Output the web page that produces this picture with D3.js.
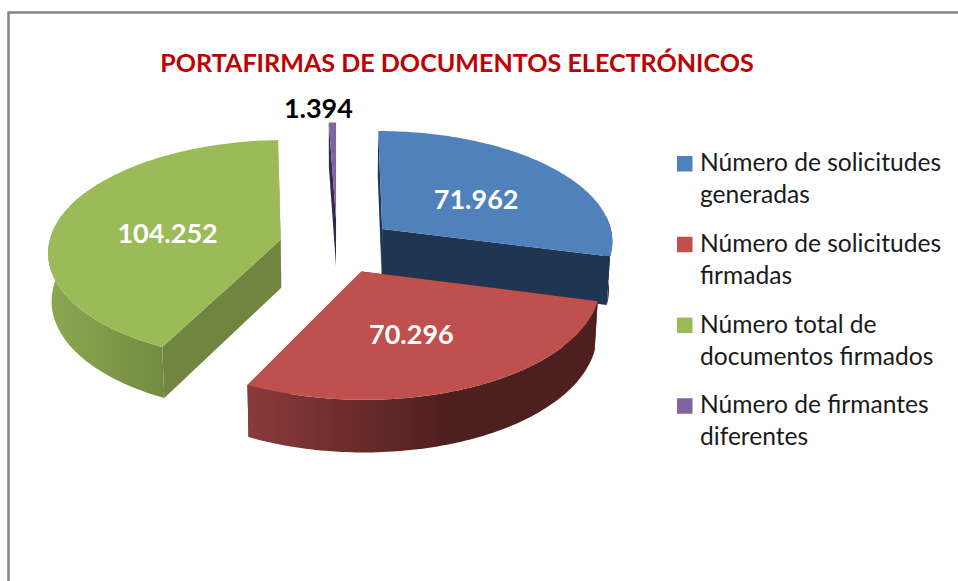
<!DOCTYPE html>
<html><head><meta charset="utf-8">
<script src="https://cdn.jsdelivr.net/npm/d3@7"></script>
<style>html,body{margin:0;padding:0;background:#fff;overflow:hidden}svg{display:block}text{font-family:Lato,"Open Sans",sans-serif}</style>
</head><body><div id="c"></div>
<script>
const titleText = "PORTAFIRMAS DE DOCUMENTOS ELECTRÓNICOS";
const categories = ["Número de solicitudes generadas","Número de solicitudes firmadas","Número total de documentos firmados","Número de firmantes diferentes"];
const legendLines = [["Número de solicitudes","generadas"],["Número de solicitudes","firmadas"],["Número total de","documentos firmados"],["Número de firmantes","diferentes"]];
const values = [71962,70296,104252,1394];
const valueLabels = ["71.962","70.296","104.252","1.394"];
const faceColors = ["#4f81bd","#c0504d","#9bbb59","#8064a2"];
const cutColors = ["#1f3552","#5a2523","#70853f","#35294a"];
const wallStops = [[["#1f3552"],["#1f3552"]],[["#8a3a3a"],["#4d1f1e"]],[["#8ca850"],["#738b41"]],[["#35294a"],["#35294a"]]];

const W=958,H=581,Cx=337,Cy=245.7,R=232,K=110.6,p=0.097,explode=0.25,D=48,shrink=0.988;
const tau=Math.PI*2;
const svg=d3.select("#c").append("svg").attr("width",W).attr("height",H);
svg.append("rect").attr("width",W).attr("height",H).attr("fill","#fff");
const defs=svg.append("defs");
const pie=d3.pie().value(d=>d).sort(null).startAngle(0).endAngle(tau);
const arcs=pie(values);

function project(b,a,r,bottom){
  const X=explode*Math.sin(b)+r*Math.sin(a), V=-explode*Math.cos(b)-r*Math.cos(a);
  const f=1/(1-p*V), s=bottom?shrink:1;
  return [Cx+R*X*f*s, Cy+K*V*f*s+(bottom?D*f:0)];
}
const line=d3.line();
const samples=(a0,a1)=>{const n=Math.max(2,Math.ceil(Math.abs(a1-a0)/0.02));return d3.range(n+1).map(i=>a0+(a1-a0)*i/n);};

const order=[2,3,0,1];
order.forEach(i=>{
  const d=arcs[i], b=(d.startAngle+d.endAngle)/2, g=svg.append("g");
  // cut walls
  [d.startAngle,d.endAngle].forEach(e=>{
    const apexT=project(b,0,0,false),rimT=project(b,e,1,false),rimB=project(b,e,1,true),apexB=project(b,0,0,true);
    g.append("path").attr("d",line([apexT,rimT,rimB,apexB])+"Z").attr("fill",cutColors[i]);
  });
  // outer wall
  const lo=Math.max(d.startAngle,Math.PI*0.46), hi=Math.min(d.endAngle,Math.PI*1.66);
  if(hi>lo){
    const as=samples(lo,hi);
    const top=as.map(a=>project(b,a,1,false)), bot=as.map(a=>project(b,a,1,true)).reverse();
    const xs=top.concat(bot).map(q=>q[0]);
    const id="wall"+i, x0=d3.min(xs), x1=d3.max(xs);
    const grad=defs.append("linearGradient").attr("id",id).attr("gradientUnits","userSpaceOnUse")
      .attr("x1",i===1?x0:x1).attr("x2",i===1?x0+(x1-x0)*0.58:x0).attr("y1",0).attr("y2",0);
    if(i===1){grad.append("stop").attr("offset",0).attr("stop-color",wallStops[i][0]);grad.append("stop").attr("offset",1).attr("stop-color",wallStops[i][1]);}
    else{grad.append("stop").attr("offset",0).attr("stop-color",wallStops[i][1]);grad.append("stop").attr("offset",1).attr("stop-color",wallStops[i][0]);}
    g.append("path").attr("d",line(top.concat(bot))+"Z").attr("fill","url(#"+id+")");
  }
  // top face
  const rim=samples(d.startAngle,d.endAngle).map(a=>project(b,a,1,false));
  g.append("path").attr("d",line([project(b,0,0,false)].concat(rim))+"Z").attr("fill",faceColors[i]);
});

// value labels
const labelR=[0.55,0.52,0.5,1.0], labelNudge=[[-1,6],[-5,6],[-2,5],[-14,-14]];
arcs.forEach((d,i)=>{
  const b=(d.startAngle+d.endAngle)/2, q=project(b,b,labelR[i],false);
  svg.append("text").attr("x",q[0]+labelNudge[i][0]).attr("y",q[1]+labelNudge[i][1]).attr("dy","0.35em")
    .attr("text-anchor","middle").attr("font-size",27).attr("font-weight",700)
    .attr("fill",i===3?"#000":"#fff").text(valueLabels[i]);
});

// title
svg.append("text").attr("x",457).attr("y",72).attr("text-anchor","middle").attr("font-size",25.1).attr("font-weight",700)
  .attr("fill","#c00000").text(titleText);

// legend
const lg=d3.scaleBand().domain(d3.range(categories.length)).range([147,470]);
categories.forEach((c,i)=>{
  const y=lg(i);
  svg.append("rect").attr("x",677).attr("y",y+9).attr("width",15.5).attr("height",15.5).attr("fill",faceColors[i]);
  legendLines[i].forEach((t,j)=>{
    svg.append("text").attr("x",700).attr("y",y+24+j*32).attr("font-size",24.6).attr("fill","#1a1a1a").text(t);
  });
});

// frame
svg.append("path").attr("d","M8.5,581V12.5H958").attr("fill","none").attr("stroke","#868686").attr("stroke-width",2.5);
</script></body></html>
